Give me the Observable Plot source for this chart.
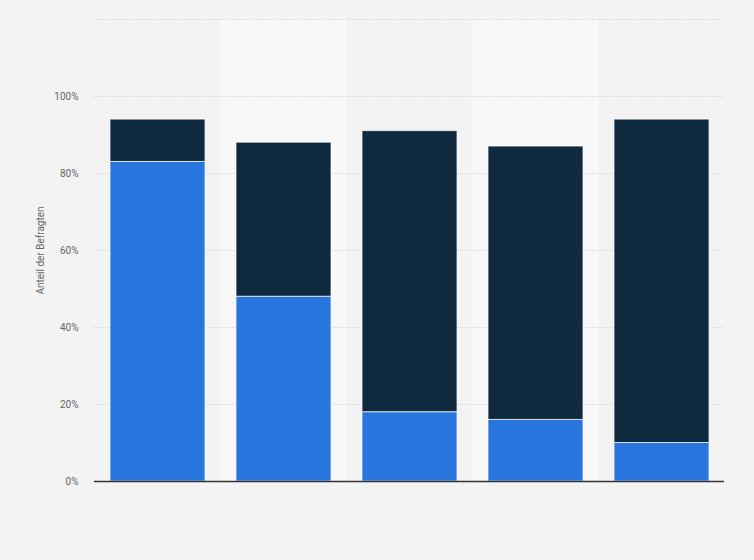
<!DOCTYPE html>
<html><head><meta charset="utf-8">
<script src="https://cdn.jsdelivr.net/npm/d3@7"></script>
<script src="https://cdn.jsdelivr.net/npm/@observablehq/plot@0.6"></script>
<style>
html,body{margin:0;padding:0;background:#f3f3f3;}
#chart{width:754px;height:560px;}
</style></head>
<body><div id="chart"></div>
<script>
const categories = ["1", "2", "3", "4", "5"];
const blueValues = [83, 48, 18, 16, 10];
const darkValues = [11, 40, 73, 71, 84];
const yTicks = [0, 20, 40, 60, 80, 100];
const gridTicks = [20, 40, 60, 80, 100, 120];
const seriesNames = ["blue", "dark"];

const rows = [];
categories.forEach((c, i) => {
  rows.push({cat: c, series: seriesNames[0], value: blueValues[i]});
  rows.push({cat: c, series: seriesNames[1], value: darkValues[i]});
});
const bandCats = categories.filter((c, i) => i % 2 === 1);

const plot = Plot.plot({
  width: 754, height: 560,
  marginLeft: 94, marginRight: 30, marginTop: 19, marginBottom: 79,
  style: {background: "#f3f3f3", fontFamily: "Roboto, 'Open Sans', sans-serif"},
  x: {domain: categories, paddingInner: 0.25, paddingOuter: 0.125, axis: null},
  y: {domain: [0, 120], axis: null},
  color: {domain: seriesNames, range: ["#2876dd", "#0f2a3f"]},
  marks: [
    Plot.barY(bandCats, {x: d => d, y1: 0, y2: 120, fill: "#f8f8f8", insetLeft: -15.75, insetRight: -15.75}),
    Plot.ruleY(gridTicks, {stroke: "#d6d6d6", strokeDasharray: "1.5,1.5", strokeWidth: 1}),
    Plot.barY(rows, {x: "cat", y: "value", fill: "series", stroke: "#ffffff", strokeOpacity: 0.7, strokeWidth: 1, order: seriesNames}),
    Plot.ruleY([0], {stroke: "#333", strokeWidth: 1.5}),
    Plot.axisY({ticks: yTicks, tickSize: 0, tickPadding: 16, tickFormat: d => d + "%", fontSize: 10, color: "#666",
      label: "Anteil der Befragten", labelAnchor: "center", labelArrow: "none", labelOffset: 58})
  ]
});
document.getElementById("chart").appendChild(plot);
</script></body></html>
